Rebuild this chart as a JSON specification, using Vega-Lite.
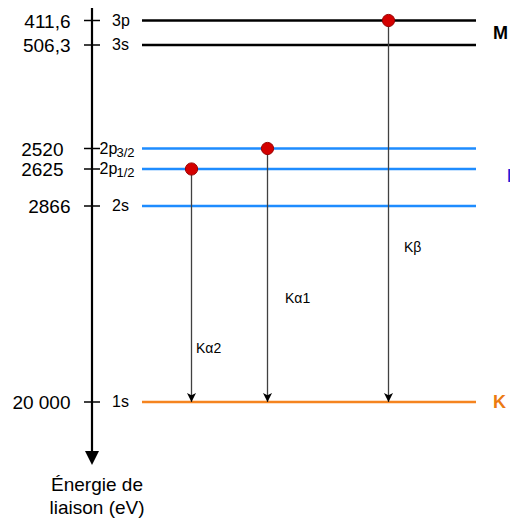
{
  "$schema": "https://vega.github.io/schema/vega-lite/v6.json",
  "width": 510,
  "height": 520,
  "autosize": {"type": "none"},
  "padding": 0,
  "background": "white",
  "config": {"view": {"stroke": null}, "text": {"font": "Liberation Sans"}},
  "datasets": {
    "levels": [
      {"level": "3p", "sub": "", "energy": 411.6, "label": "411,6", "shell": "M"},
      {"level": "3s", "sub": "", "energy": 506.3, "label": "506,3", "shell": "M"},
      {"level": "2p", "sub": "3/2", "energy": 2520, "label": "2520", "shell": "L"},
      {"level": "2p", "sub": "1/2", "energy": 2625, "label": "2625", "shell": "L"},
      {"level": "2s", "sub": "", "energy": 2866, "label": "2866", "shell": "L"},
      {"level": "1s", "sub": "", "energy": 20000, "label": "20 000", "shell": "K"}
    ],
    "transitions": [
      {"line": "Kα2", "from": 2625, "to": 20000},
      {"line": "Kα1", "from": 2520, "to": 20000},
      {"line": "Kβ", "from": 411.6, "to": 20000}
    ]
  },
  "resolve": {"scale": {"x": "independent", "color": "independent"}},
  "layer": [
    {
      "data": {"values": [{}]},
      "mark": {"type": "rule", "stroke": "black", "strokeWidth": 2.2},
      "encoding": {
        "x": {"datum": 92, "type": "quantitative", "scale": {"domain": [0, 510], "range": [0, 510], "nice": false, "zero": false}, "axis": null},
        "y": {"datum": 300, "type": "quantitative", "scale": {"domain": [300, 411.6, 506.3, 2520, 2625, 2866, 20000, 24000], "range": [8, 20.5, 45, 148.5, 169, 206, 402, 458], "nice": false, "zero": false}, "axis": null},
        "y2": {"datum": 24000}
      }
    },
    {
      "data": {"values": [{}]},
      "mark": {"type": "point", "shape": "M-1,-1L1,-1L0,1Z", "filled": true, "fill": "black", "stroke": null, "size": 196, "opacity": 1},
      "encoding": {
        "x": {"datum": 92, "type": "quantitative", "scale": {"domain": [0, 510], "range": [0, 510], "nice": false, "zero": false}, "axis": null},
        "y": {"datum": 24000, "type": "quantitative"}
      }
    },
    {
      "data": {"values": [{}]},
      "mark": {"type": "text", "fontSize": 19, "align": "center", "baseline": "middle", "dy": 27, "lineHeight": 23, "color": "black"},
      "encoding": {
        "x": {"datum": 97, "type": "quantitative", "scale": {"domain": [0, 510], "range": [0, 510], "nice": false, "zero": false}, "axis": null},
        "y": {"datum": 24000, "type": "quantitative"},
        "text": {"value": ["Énergie de", "liaison (eV)"]}
      }
    },
    {
      "data": {"name": "levels"},
      "mark": {"type": "rule", "stroke": "black", "strokeWidth": 1.5},
      "encoding": {
        "x": {"datum": 84, "type": "quantitative", "scale": {"domain": [0, 510], "range": [0, 510], "nice": false, "zero": false}, "axis": null},
        "x2": {"datum": 100},
        "y": {"field": "energy", "type": "quantitative"}
      }
    },
    {
      "data": {"name": "levels"},
      "mark": {"type": "rule", "strokeWidth": 2.6},
      "encoding": {
        "x": {"datum": 142, "type": "quantitative", "scale": {"domain": [0, 510], "range": [0, 510], "nice": false, "zero": false}, "axis": null},
        "x2": {"datum": 476},
        "y": {"field": "energy", "type": "quantitative"},
        "color": {"field": "shell", "type": "nominal", "scale": {"domain": ["M", "L", "K"], "range": ["#000000", "#1e8cff", "#f5841f"]}, "legend": null}
      }
    },
    {
      "data": {"name": "levels"},
      "mark": {"type": "text", "fontSize": 19, "align": "right", "baseline": "middle", "dy": 1, "color": "black", "dx": {"expr": "datum.sub ? -7 : 0"}},
      "encoding": {
        "x": {"datum": 70.5, "type": "quantitative", "scale": {"domain": [0, 510], "range": [0, 510], "nice": false, "zero": false}, "axis": null},
        "y": {"field": "energy", "type": "quantitative"},
        "text": {"field": "label"}
      }
    },
    {
      "data": {"name": "levels"},
      "mark": {"type": "text", "fontSize": 16, "align": "left", "baseline": "middle", "dy": 0, "color": "black", "dx": {"expr": "datum.sub ? -12.5 : 0"}},
      "encoding": {
        "x": {"datum": 112, "type": "quantitative", "scale": {"domain": [0, 510], "range": [0, 510], "nice": false, "zero": false}, "axis": null},
        "y": {"field": "energy", "type": "quantitative"},
        "text": {"field": "level"}
      }
    },
    {
      "data": {"name": "levels"},
      "transform": [{"filter": "datum.sub !== ''"}],
      "mark": {"type": "text", "fontSize": 13, "align": "left", "baseline": "middle", "dy": 4, "color": "black"},
      "encoding": {
        "x": {"datum": 116.5, "type": "quantitative", "scale": {"domain": [0, 510], "range": [0, 510], "nice": false, "zero": false}, "axis": null},
        "y": {"field": "energy", "type": "quantitative"},
        "text": {"field": "sub"}
      }
    },
    {
      "data": {"name": "levels"},
      "transform": [{"aggregate": [{"op": "mean", "field": "energy", "as": "energy"}], "groupby": ["shell"]}],
      "mark": {"type": "text", "fontSize": 18, "fontWeight": "bold", "align": "left", "baseline": "middle", "dy": 1, "dx": {"expr": "datum.shell === 'L' ? 14 : 0"}},
      "encoding": {
        "x": {"datum": 493, "type": "quantitative", "scale": {"domain": [0, 510], "range": [0, 510], "nice": false, "zero": false}, "axis": null},
        "y": {"field": "energy", "type": "quantitative"},
        "text": {"field": "shell"},
        "color": {"field": "shell", "type": "nominal", "scale": {"domain": ["M", "L", "K"], "range": ["#000000", "#1f1fd8", "#ec7a12"]}, "legend": null}
      }
    },
    {
      "data": {"name": "transitions"},
      "mark": {"type": "rule", "stroke": "#404040", "strokeWidth": 1.3},
      "encoding": {
        "x": {"field": "from", "type": "quantitative", "scale": {"domain": [411.6, 2520, 2625], "range": [388.5, 267.5, 191.5], "nice": false, "zero": false}, "axis": null},
        "y": {"field": "from", "type": "quantitative"},
        "y2": {"field": "to"}
      }
    },
    {
      "data": {"name": "transitions"},
      "mark": {"type": "point", "shape": "M-1,-1L0,-0.5L1,-1L0,1Z", "filled": true, "fill": "black", "stroke": null, "size": 81, "opacity": 1, "yOffset": -4.5},
      "encoding": {
        "x": {"field": "from", "type": "quantitative", "scale": {"domain": [411.6, 2520, 2625], "range": [388.5, 267.5, 191.5], "nice": false, "zero": false}, "axis": null},
        "y": {"field": "to", "type": "quantitative"}
      }
    },
    {
      "data": {"name": "transitions"},
      "mark": {"type": "point", "shape": "circle", "filled": true, "fill": "#d40000", "stroke": "#9a0000", "strokeWidth": 1, "size": 150, "opacity": 1},
      "encoding": {
        "x": {"field": "from", "type": "quantitative", "scale": {"domain": [411.6, 2520, 2625], "range": [388.5, 267.5, 191.5], "nice": false, "zero": false}, "axis": null},
        "y": {"field": "from", "type": "quantitative"}
      }
    },
    {
      "data": {"name": "transitions"},
      "mark": {"type": "text", "fontSize": 14, "align": "left", "baseline": "middle", "color": "black",
        "dx": {"expr": "datum.line === 'Kα2' ? 4.5 : datum.line === 'Kα1' ? 17.5 : 15.5"},
        "dy": {"expr": "datum.line === 'Kα2' ? -53 : datum.line === 'Kα1' ? -103 : -154"}},
      "encoding": {
        "x": {"field": "from", "type": "quantitative", "scale": {"domain": [411.6, 2520, 2625], "range": [388.5, 267.5, 191.5], "nice": false, "zero": false}, "axis": null},
        "y": {"field": "to", "type": "quantitative"},
        "text": {"field": "line"}
      }
    }
  ]
}
